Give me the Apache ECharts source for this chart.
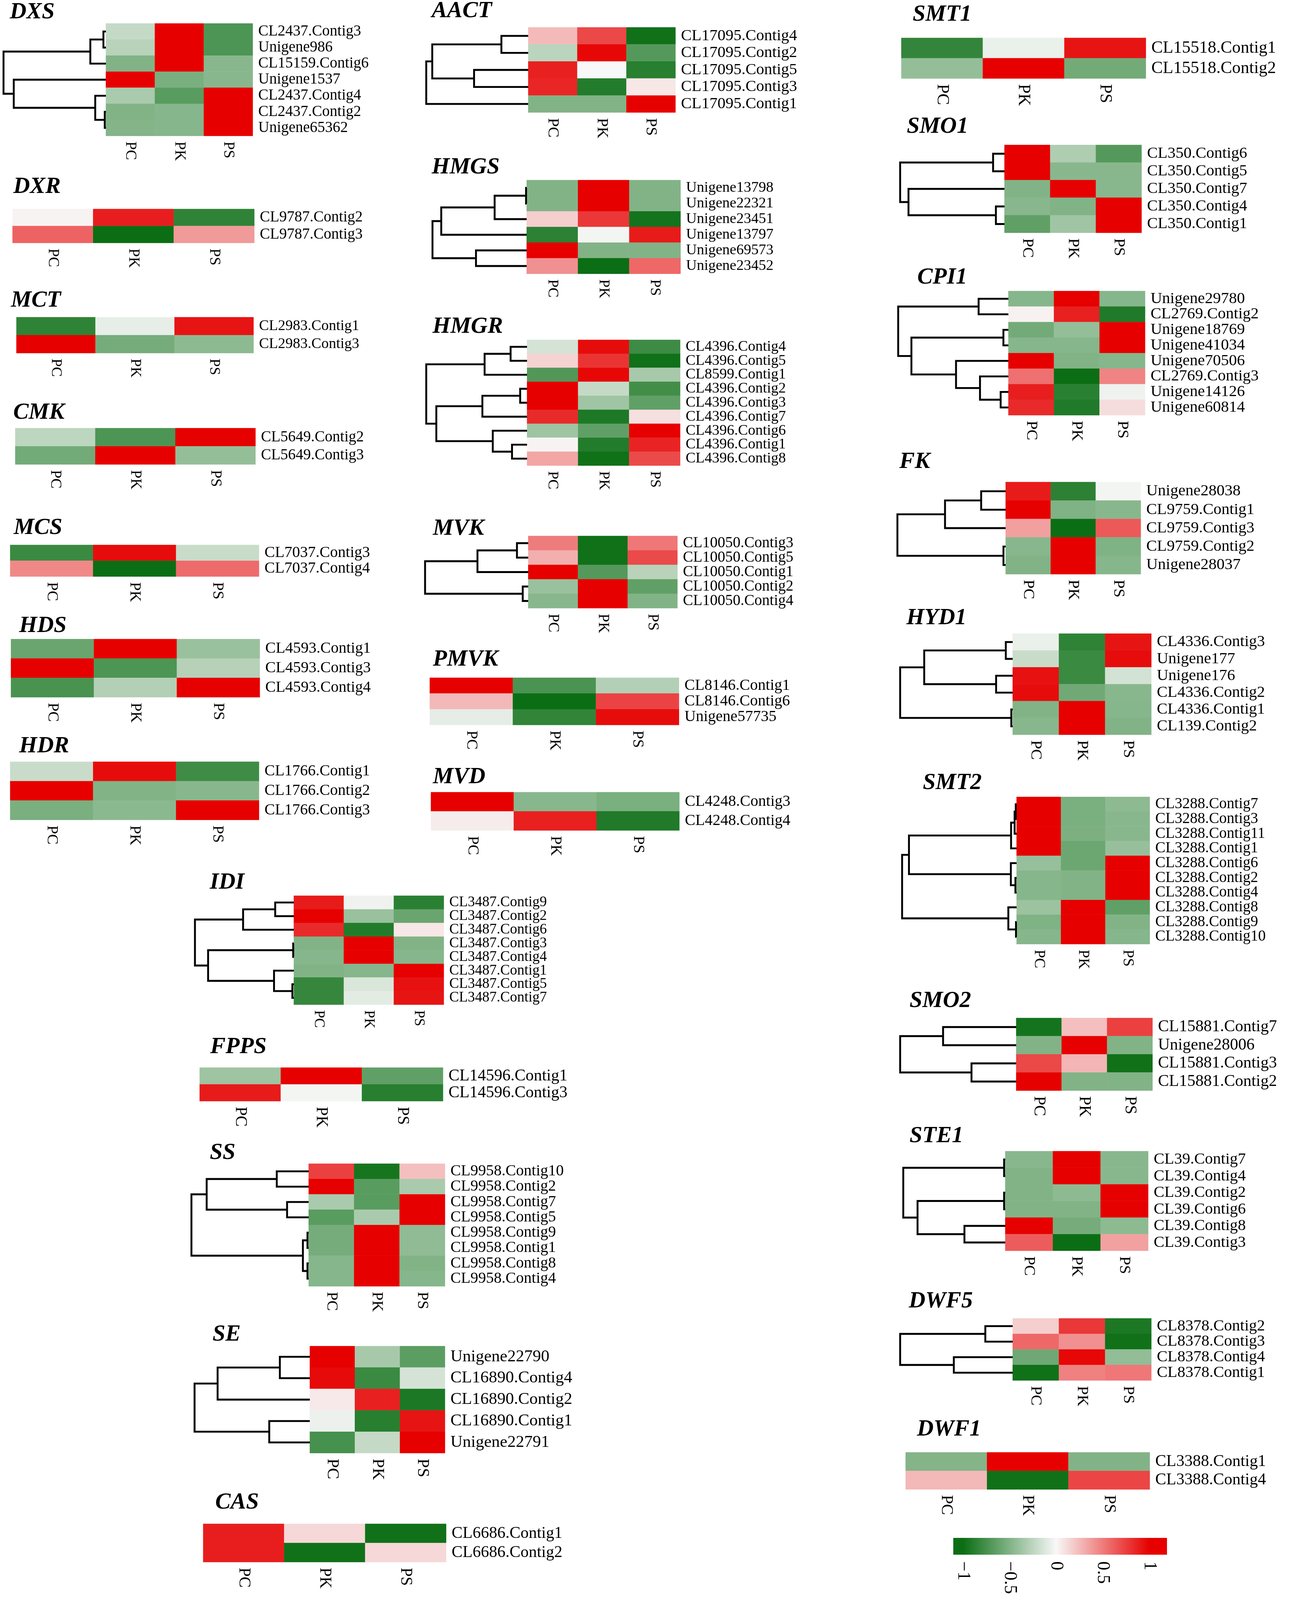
<!DOCTYPE html>
<html>
<head>
  <meta charset="utf-8">
  <title>Heatmaps</title>
  <script src="https://cdn.jsdelivr.net/npm/echarts@6/dist/echarts.min.js"></script>
  <style>
    html, body { margin: 0; padding: 0; background: #fff; overflow: hidden; }
  </style>
</head>
<body>
<div id="main"></div>
<script type="text/javascript">

  // sample columns and the colour scale
  var samples = ['PC', 'PK', 'PS'];
  var legendTicks = [-1, -0.5, 0, 0.5, 1];
  var legendRange = [-1.105, 1.19];
  var scaleColors = ['#0b6e14', '#f8f8f8', '#e60000'];

  // gene rows, z-scores (PC, PK, PS) and cluster trees [left, right, height]
  var dxsGenes = ['CL2437.Contig3', 'Unigene986', 'CL15159.Contig6', 'Unigene1537', 'CL2437.Contig4', 'CL2437.Contig2', 'Unigene65362'];
  var dxsValues = [[-0.22, 1, -0.72], [-0.27, 1, -0.72], [-0.5, 1, -0.47], [1, -0.53, -0.47], [-0.33, -0.67, 1], [-0.5, -0.48, 1], [-0.49, -0.48, 1]];
  var dxsTree = [[[0, 1, 0.024], 2, 0.152], [3, [4, [5, 6, 0.011], 0.104], 0.9], 1];

  var dxrGenes = ['CL9787.Contig2', 'CL9787.Contig3'];
  var dxrValues = [[0.02, 0.88, -0.85], [0.6, -1, 0.38]];

  var mctGenes = ['CL2983.Contig1', 'CL2983.Contig3'];
  var mctValues = [[-0.85, -0.07, 0.92], [1, -0.55, -0.45]];

  var cmkGenes = ['CL5649.Contig2', 'CL5649.Contig3'];
  var cmkValues = [[-0.25, -0.72, 1], [-0.56, 1, -0.42]];

  var mcsGenes = ['CL7037.Contig3', 'CL7037.Contig4'];
  var mcsValues = [[-0.8, 0.95, -0.2], [0.45, -1, 0.57]];

  var hdsGenes = ['CL4593.Contig1', 'CL4593.Contig3', 'CL4593.Contig4'];
  var hdsValues = [[-0.6, 1, -0.4], [1, -0.72, -0.28], [-0.74, -0.29, 1]];

  var hdrGenes = ['CL1766.Contig1', 'CL1766.Contig2', 'CL1766.Contig3'];
  var hdrValues = [[-0.2, 0.95, -0.78], [1, -0.5, -0.47], [-0.53, -0.46, 1]];

  var aactGenes = ['CL17095.Contig4', 'CL17095.Contig2', 'CL17095.Contig5', 'CL17095.Contig3', 'CL17095.Contig1'];
  var aactValues = [[0.25, 0.71, -0.98], [-0.26, 0.97, -0.69], [0.87, 0, -0.88], [0.85, -0.9, 0.07], [-0.5, -0.5, 1]];
  var aactTree = [[[0, 1, 0.263], [2, 3, 0.531], 0.941], 4, 1];

  var hmgsGenes = ['Unigene13798', 'Unigene22321', 'Unigene23451', 'Unigene13797', 'Unigene69573', 'Unigene23452'];
  var hmgsValues = [[-0.5, 1, -0.5], [-0.5, 1, -0.5], [0.17, 0.78, -0.96], [-0.86, -0.02, 0.89], [1, -0.5, -0.5], [0.42, -1, 0.58]];
  var hmgsTree = [[[[0, 1, 0.006], 2, 0.34], 3, 0.907], [4, 5, 0.538], 1];

  var hmgrGenes = ['CL4396.Contig4', 'CL4396.Contig5', 'CL8599.Contig1', 'CL4396.Contig2', 'CL4396.Contig3', 'CL4396.Contig7', 'CL4396.Contig6', 'CL4396.Contig1', 'CL4396.Contig8'];
  var hmgrValues = [[-0.15, 0.95, -0.79], [0.15, 0.79, -0.98], [-0.7, 0.97, -0.34], [1, -0.22, -0.77], [1, -0.37, -0.64], [0.83, -0.92, 0.1], [-0.38, -0.64, 1], [0.02, -0.9, 0.86], [0.33, -0.98, 0.7]];
  var hmgrTree = [[[0, 1, 0.163], 2, 0.421], [[[3, 4, 0.068], 5, 0.443], [6, [7, 8, 0.149], 0.34], 0.9], 1];

  var mvkGenes = ['CL10050.Contig3', 'CL10050.Contig5', 'CL10050.Contig1', 'CL10050.Contig2', 'CL10050.Contig4'];
  var mvkValues = [[0.5, -0.98, 0.52], [0.3, -0.98, 0.7], [1, -0.69, -0.27], [-0.4, 1, -0.64], [-0.47, 1, -0.5]];
  var mvkTree = [[[0, 1, 0.109], 2, 0.492], [3, 4, 0.053], 1];

  var pmvkGenes = ['CL8146.Contig1', 'CL8146.Contig6', 'Unigene57735'];
  var pmvkValues = [[1, -0.73, -0.29], [0.26, -1, 0.73], [-0.08, -0.84, 0.95]];

  var mvdGenes = ['CL4248.Contig3', 'CL4248.Contig4'];
  var mvdValues = [[1, -0.47, -0.53], [0.05, 0.87, -0.91]];

  var smt1Genes = ['CL15518.Contig1', 'CL15518.Contig2'];
  var smt1Values = [[-0.83, -0.06, 0.92], [-0.42, 1, -0.56]];

  var smo1Genes = ['CL350.Contig6', 'CL350.Contig5', 'CL350.Contig7', 'CL350.Contig4', 'CL350.Contig1'];
  var smo1Values = [[1, -0.31, -0.69], [1, -0.47, -0.47], [-0.5, 1, -0.47], [-0.47, -0.5, 1], [-0.64, -0.37, 1]];
  var smo1Tree = [[0, 1, 0.109], [2, [3, 4, 0.082], 0.92], 1];

  var cpi1Genes = ['Unigene29780', 'CL2769.Contig2', 'Unigene18769', 'Unigene41034', 'Unigene70506', 'CL2769.Contig3', 'Unigene14126', 'Unigene60814'];
  var cpi1Values = [[-0.48, 1, -0.48], [0.03, 0.87, -0.91], [-0.56, -0.42, 1], [-0.48, -0.48, 1], [1, -0.5, -0.48], [0.55, -1, 0.47], [0.88, -0.87, -0.04], [0.83, -0.91, 0.11]];
  var cpi1Tree = [[0, 1, 0.27], [[2, 3, 0.045], [4, [5, [6, 7, 0.07], 0.2575], 0.475], 0.88], 1];

  var fkGenes = ['Unigene28038', 'CL9759.Contig1', 'CL9759.Contig3', 'CL9759.Contig2', 'Unigene28037'];
  var fkValues = [[0.89, -0.86, -0.02], [1, -0.51, -0.47], [0.36, -1, 0.64], [-0.47, 1, -0.51], [-0.5, 1, -0.48]];
  var fkTree = [[[0, 1, 0.226], 2, 0.56], [3, 4, 0.02], 1];

  var hyd1Genes = ['CL4336.Contig3', 'Unigene177', 'Unigene176', 'CL4336.Contig2', 'CL4336.Contig1', 'CL139.Contig2'];
  var hyd1Values = [[-0.06, -0.85, 0.92], [-0.2, -0.8, 0.95], [0.93, -0.8, -0.16], [0.95, -0.57, -0.47], [-0.5, 1, -0.48], [-0.47, 1, -0.5]];
  var hyd1Tree = [[[0, 1, 0.061], [2, 3, 0.147], 0.786], [4, 5, 0.012], 1];

  var smt2Genes = ['CL3288.Contig7', 'CL3288.Contig3', 'CL3288.Contig11', 'CL3288.Contig1', 'CL3288.Contig6', 'CL3288.Contig2', 'CL3288.Contig4', 'CL3288.Contig8', 'CL3288.Contig9', 'CL3288.Contig10'];
  var smt2Values = [[1, -0.53, -0.45], [1, -0.53, -0.47], [1, -0.52, -0.47], [1, -0.59, -0.41], [-0.41, -0.59, 1], [-0.48, -0.5, 1], [-0.48, -0.5, 1], [-0.39, 1, -0.64], [-0.51, 1, -0.5], [-0.48, 1, -0.48]];
  var smt2Tree = [[[[[0, 1, 0.007], 2, 0.017], 3, 0.048], [4, [5, 6, 0.01], 0.05], 0.94], [7, [8, 9, 0.005], 0.072], 1];

  var smo2Genes = ['CL15881.Contig7', 'Unigene28006', 'CL15881.Contig3', 'CL15881.Contig2'];
  var smo2Values = [[-0.96, 0.23, 0.74], [-0.5, 1, -0.5], [0.71, 0.27, -0.98], [1, -0.5, -0.5]];
  var smo2Tree = [[0, 1, 0.63], [2, 3, 0.385], 1];

  var ste1Genes = ['CL39.Contig7', 'CL39.Contig4', 'CL39.Contig2', 'CL39.Contig6', 'CL39.Contig8', 'CL39.Contig3'];
  var ste1Values = [[-0.47, 1, -0.47], [-0.5, 1, -0.47], [-0.5, -0.45, 1], [-0.5, -0.5, 1], [1, -0.55, -0.45], [0.63, -1, 0.35]];
  var ste1Tree = [[0, 1, 0.011], [[2, 3, 0.011], [4, 5, 0.4], 0.86], 1];

  var dwf5Genes = ['CL8378.Contig2', 'CL8378.Contig3', 'CL8378.Contig4', 'CL8378.Contig1'];
  var dwf5Values = [[0.17, 0.78, -0.93], [0.58, 0.42, -0.98], [-0.58, 0.97, -0.43], [-0.98, 0.48, 0.52]];
  var dwf5Tree = [[0, 1, 0.243], [2, 3, 0.523], 1];

  var dwf1Genes = ['CL3388.Contig1', 'CL3388.Contig4'];
  var dwf1Values = [[-0.49, 1, -0.5], [0.26, -0.98, 0.72]];

  var idiGenes = ['CL3487.Contig9', 'CL3487.Contig2', 'CL3487.Contig6', 'CL3487.Contig3', 'CL3487.Contig4', 'CL3487.Contig1', 'CL3487.Contig5', 'CL3487.Contig7'];
  var idiValues = [[0.89, -0.04, -0.87], [1, -0.4, -0.6], [0.83, -0.9, 0.07], [-0.5, 1, -0.5], [-0.48, 1, -0.48], [-0.5, -0.48, 1], [-0.82, -0.13, 0.93], [-0.82, -0.09, 0.92]];
  var idiTree = [[[0, 1, 0.188], 2, 0.513], [[3, 4, 0.006], [5, [6, 7, 0.0145], 0.2], 0.867], 1];

  var fppsGenes = ['CL14596.Contig1', 'CL14596.Contig3'];
  var fppsValues = [[-0.38, 1, -0.64], [0.89, -0.02, -0.88]];

  var ssGenes = ['CL9958.Contig10', 'CL9958.Contig2', 'CL9958.Contig7', 'CL9958.Contig5', 'CL9958.Contig9', 'CL9958.Contig1', 'CL9958.Contig8', 'CL9958.Contig4'];
  var ssValues = [[0.74, -0.95, 0.23], [1, -0.67, -0.33], [-0.33, -0.67, 1], [-0.67, -0.33, 1], [-0.55, 1, -0.44], [-0.55, 1, -0.44], [-0.48, 1, -0.5], [-0.48, 1, -0.48]];
  var ssTree = [[[0, 1, 0.272], [2, 3, 0.184], 0.87], [[4, 5, 0.01], [6, 7, 0.01], 0.049], 1];

  var seGenes = ['Unigene22790', 'CL16890.Contig4', 'CL16890.Contig2', 'CL16890.Contig1', 'Unigene22791'];
  var seValues = [[1, -0.34, -0.66], [0.96, -0.8, -0.15], [0.06, 0.87, -0.93], [-0.05, -0.88, 0.92], [-0.75, -0.22, 1]];
  var seTree = [[[0, 1, 0.26], 2, 0.8], [3, 4, 0.352], 1];

  var casGenes = ['CL6686.Contig1', 'CL6686.Contig2'];
  var casValues = [[0.88, 0.13, -0.98], [0.88, -0.98, 0.13]];

  var panels = [
    {name: 'DXS', genes: dxsGenes, values: dxsValues, tree: dxsTree},
    {name: 'DXR', genes: dxrGenes, values: dxrValues},
    {name: 'MCT', genes: mctGenes, values: mctValues},
    {name: 'CMK', genes: cmkGenes, values: cmkValues},
    {name: 'MCS', genes: mcsGenes, values: mcsValues},
    {name: 'HDS', genes: hdsGenes, values: hdsValues},
    {name: 'HDR', genes: hdrGenes, values: hdrValues},
    {name: 'AACT', genes: aactGenes, values: aactValues, tree: aactTree},
    {name: 'HMGS', genes: hmgsGenes, values: hmgsValues, tree: hmgsTree},
    {name: 'HMGR', genes: hmgrGenes, values: hmgrValues, tree: hmgrTree},
    {name: 'MVK', genes: mvkGenes, values: mvkValues, tree: mvkTree},
    {name: 'PMVK', genes: pmvkGenes, values: pmvkValues},
    {name: 'MVD', genes: mvdGenes, values: mvdValues},
    {name: 'SMT1', genes: smt1Genes, values: smt1Values},
    {name: 'SMO1', genes: smo1Genes, values: smo1Values, tree: smo1Tree},
    {name: 'CPI1', genes: cpi1Genes, values: cpi1Values, tree: cpi1Tree},
    {name: 'FK', genes: fkGenes, values: fkValues, tree: fkTree},
    {name: 'HYD1', genes: hyd1Genes, values: hyd1Values, tree: hyd1Tree},
    {name: 'SMT2', genes: smt2Genes, values: smt2Values, tree: smt2Tree},
    {name: 'SMO2', genes: smo2Genes, values: smo2Values, tree: smo2Tree},
    {name: 'STE1', genes: ste1Genes, values: ste1Values, tree: ste1Tree},
    {name: 'DWF5', genes: dwf5Genes, values: dwf5Values, tree: dwf5Tree},
    {name: 'DWF1', genes: dwf1Genes, values: dwf1Values},
    {name: 'IDI', genes: idiGenes, values: idiValues, tree: idiTree},
    {name: 'FPPS', genes: fppsGenes, values: fppsValues},
    {name: 'SS', genes: ssGenes, values: ssValues, tree: ssTree},
    {name: 'SE', genes: seGenes, values: seValues, tree: seTree},
    {name: 'CAS', genes: casGenes, values: casValues}
  ];

  // page layout (in 3307 x 4245 figure units): heatmap box [x0, y0, x1, y1],
  // dendrogram root x, title position, label size
  var layout = {
    DXS:  {box: [271, 62, 647, 361], root: 9, title: [25, 11], font: 40},
    DXR:  {box: [32, 554, 651, 645], title: [34, 475], font: 40},
    MCT:  {box: [42, 842, 649, 937], title: [28, 776], font: 39},
    CMK:  {box: [39, 1136, 654, 1232], title: [34, 1074], font: 40},
    MCS:  {box: [26, 1446, 663, 1530], title: [35, 1379], font: 41},
    HDS:  {box: [28, 1695, 665, 1850], title: [49, 1640], font: 41},
    HDR:  {box: [26, 2021, 663, 2175], title: [49, 1959], font: 41},
    AACT: {box: [1352, 73, 1729, 298], root: 1091, title: [1105, 8], font: 42},
    HMGS: {box: [1348, 478, 1742, 726], root: 1107, title: [1105, 423], font: 39},
    HMGR: {box: [1349, 902, 1741, 1235], root: 1091, title: [1107, 846], font: 39},
    MVK:  {box: [1352, 1422, 1734, 1614], root: 1088, title: [1108, 1381], font: 40},
    PMVK: {box: [1100, 1798, 1738, 1923], title: [1108, 1729], font: 41},
    MVD:  {box: [1103, 2102, 1739, 2203], title: [1108, 2041], font: 41},
    SMT1: {box: [2307, 101, 2933, 208], title: [2336, 18], font: 46},
    SMO1: {box: [2571, 385, 2922, 618], root: 2304, title: [2321, 315], font: 42},
    CPI1: {box: [2581, 772, 2931, 1102], root: 2299, title: [2348, 715], font: 42},
    FK:   {box: [2574, 1279, 2920, 1523], root: 2297, title: [2302, 1204], font: 43},
    HYD1: {box: [2592, 1681, 2947, 1949], root: 2304, title: [2320, 1619], font: 43},
    SMT2: {box: [2602, 2114, 2943, 2505], root: 2309, title: [2362, 2056], font: 40},
    SMO2: {box: [2601, 2701, 2950, 2894], root: 2304, title: [2328, 2634], font: 44},
    STE1: {box: [2573, 3054, 2939, 3318], root: 2312, title: [2328, 2993], font: 42},
    DWF5: {box: [2592, 3498, 2947, 3663], root: 2304, title: [2326, 3431], font: 42},
    DWF1: {box: [2318, 3853, 2943, 3952], title: [2347, 3771], font: 44},
    IDI:  {box: [752, 2376, 1136, 2666], root: 499, title: [537, 2320], font: 38},
    FPPS: {box: [511, 2832, 1134, 2922], title: [538, 2757], font: 44},
    SS:   {box: [790, 3087, 1139, 3413], root: 490, title: [537, 3038], font: 41},
    SE:   {box: [793, 3571, 1139, 3855], root: 498, title: [544, 3520], font: 45},
    CAS:  {box: [520, 4043, 1142, 4144], title: [551, 3965], font: 44}
  };
  var legendBox = [2440, 4080, 2987, 4125];

  var serif = 'Liberation Serif';

  // fit the figure to the visible page
  var W = window.innerWidth || 3307;
  var H = window.innerHeight || 4245;
  var sx = W / 3307, sy = H / 4245;
  var fs = Math.min(sx, sy);
  function X(v) { return Math.round(v * sx); }
  function Y(v) { return Math.round(v * sy); }
  var dom = document.getElementById('main');
  dom.style.width = W + 'px';
  dom.style.height = H + 'px';

  // tree -> list of merges [height, yLeft, yRight, hLeft, hRight]
  function flattenTree(node, out) {
    if (typeof node === 'number') return {y: node, h: 0};
    var a = flattenTree(node[0], out);
    var b = flattenTree(node[1], out);
    out.push([node[2], a.y, b.y, a.h, b.h]);
    return {y: (a.y + b.y) / 2, h: node[2]};
  }

  var option = {
    backgroundColor: '#fff',
    animation: false,
    title: [],
    grid: [],
    xAxis: [],
    yAxis: [],
    series: []
  };
  var heatIdx = [];

  panels.forEach(function (p) {
    var L = layout[p.name];
    var b = L.box;
    var n = p.genes.length;
    var f = Math.round(L.font * fs);

    option.title.push({
      text: p.name, left: X(L.title[0]), top: Y(L.title[1]) - Math.round(9 * fs), padding: 0,
      textStyle: {fontFamily: serif, fontStyle: 'italic', fontWeight: 'bold', fontSize: Math.round(61 * fs), color: '#000'}
    });

    // heatmap
    var gi = option.grid.length;
    option.grid.push({left: X(b[0]), top: Y(b[1]), width: X(b[2]) - X(b[0]), height: Y(b[3]) - Y(b[1]), outerBoundsMode: 'none'});
    option.xAxis.push({
      type: 'category', gridIndex: gi, data: samples, position: 'bottom',
      axisLine: {show: false}, axisTick: {show: false}, splitLine: {show: false},
      axisLabel: {rotate: -90, interval: 0, margin: Math.round(15 * fs), color: '#000', fontFamily: serif, fontSize: f}
    });
    option.yAxis.push({
      type: 'category', gridIndex: gi, data: p.genes, inverse: true, position: 'right',
      axisLine: {show: false}, axisTick: {show: false}, splitLine: {show: false},
      axisLabel: {interval: 0, margin: Math.round(15 * fs), color: '#000', fontFamily: serif, fontSize: f}
    });
    var cells = [];
    p.values.forEach(function (row, r) {
      row.forEach(function (v, c) { cells.push([c, r, v]); });
    });
    heatIdx.push(option.series.length);
    option.series.push({
      type: 'heatmap', xAxisIndex: gi, yAxisIndex: gi, data: cells, silent: true,
      itemStyle: {borderWidth: 0}, emphasis: {disabled: true}
    });

    // dendrogram
    if (p.tree) {
      var merges = [];
      flattenTree(p.tree, merges);
      var di = option.grid.length;
      option.grid.push({left: X(L.root), top: Y(b[1]), width: X(b[0]) - X(L.root), height: Y(b[3]) - Y(b[1]), outerBoundsMode: 'none'});
      option.xAxis.push({type: 'value', gridIndex: di, min: 0, max: 1, inverse: true, show: false});
      option.yAxis.push({type: 'value', gridIndex: di, min: -0.5, max: n - 0.5, inverse: true, show: false});
      option.series.push({
        type: 'custom', xAxisIndex: di, yAxisIndex: di, data: merges, silent: true, clip: false,
        encode: {x: [0, 3, 4], y: [1, 2]},
        renderItem: function (params, api) {
          var p1 = api.coord([api.value(3), api.value(1)]);
          var p2 = api.coord([api.value(0), api.value(1)]);
          var p3 = api.coord([api.value(0), api.value(2)]);
          var p4 = api.coord([api.value(4), api.value(2)]);
          return {
            type: 'polyline',
            shape: {points: [p1, p2, p3, p4]},
            style: {stroke: '#000', lineWidth: 5 * fs, fill: null, lineJoin: 'miter'}
          };
        }
      });
    }
  });

  // colour key
  var ci = option.grid.length;
  option.grid.push({left: X(legendBox[0]), top: Y(legendBox[1]), width: X(legendBox[2]) - X(legendBox[0]), height: Y(legendBox[3]) - Y(legendBox[1]), outerBoundsMode: 'none'});
  option.xAxis.push({
    type: 'value', gridIndex: ci, min: legendRange[0], max: legendRange[1],
    axisLine: {show: false}, axisTick: {show: false}, splitLine: {show: false},
    axisLabel: {
      customValues: legendTicks, rotate: -90, margin: Math.round(18 * fs), color: '#000', fontFamily: serif, fontSize: Math.round(48 * fs),
      formatter: function (v) { return String(v).replace('-', '\u2212'); }
    }
  });
  option.yAxis.push({type: 'value', gridIndex: ci, min: 0, max: 1, show: false});
  var span = legendRange[1] - legendRange[0];
  function frac(v) { return (v - legendRange[0]) / span; }
  option.series.push({
    type: 'custom', xAxisIndex: ci, yAxisIndex: ci, data: [[legendRange[0], legendRange[1]]], silent: true,
    renderItem: function (params, api) {
      var a = api.coord([api.value(0), 1]);
      var z = api.coord([api.value(1), 0]);
      return {
        type: 'rect',
        shape: {x: a[0], y: a[1], width: z[0] - a[0], height: z[1] - a[1]},
        style: {
          fill: new echarts.graphic.LinearGradient(0, 0, 1, 0, [
            {offset: 0, color: scaleColors[0]},
            {offset: frac(legendTicks[0]), color: scaleColors[0]},
            {offset: frac(0), color: scaleColors[1]},
            {offset: frac(legendTicks[4]), color: scaleColors[2]},
            {offset: 1, color: scaleColors[2]}
          ])
        }
      };
    }
  });

  option.visualMap = {
    type: 'continuous', show: false, min: -1, max: 1, dimension: 2,
    seriesIndex: heatIdx,
    inRange: {color: scaleColors}
  };

  var myChart = echarts.init(dom);
  myChart.setOption(option);

</script>
</body>
</html>
